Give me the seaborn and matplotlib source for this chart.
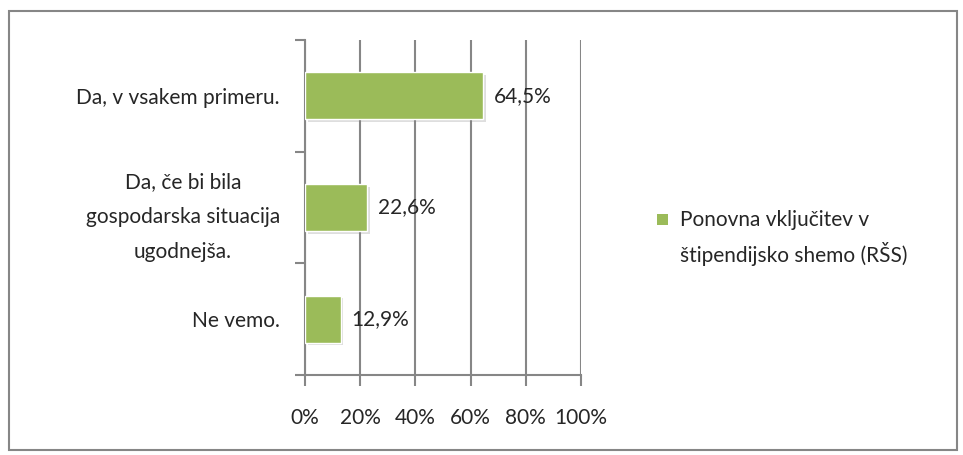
import matplotlib
matplotlib.use("Agg")
import matplotlib.pyplot as plt
import matplotlib.patheffects as pe
from matplotlib.patches import Rectangle
from matplotlib.ticker import FixedLocator
from matplotlib.legend_handler import HandlerPatch
import seaborn as sns
import pandas as pd

categories = ["Da, v vsakem primeru.",
              "Da, če bi bila\ngospodarska situacija\nugodnejša.",
              "Ne vemo."]
values = [64.5, 22.6, 12.9]
series_name = "Ponovna vključitev v\nštipendijsko shemo (RŠS)"
x_ticks = [0, 20, 40, 60, 80, 100]
x_labels = ["0%", "20%", "40%", "60%", "80%", "100%"]

green = "#9BBB59"
gray = "#868686"
fs = 15

sns.set_theme(style="white")
plt.rcParams["font.family"] = ["Lato", "DejaVu Sans"]

df = pd.DataFrame({"cat": categories, "val": values})

fig = plt.figure(figsize=(9.63, 4.55), dpi=100)
ax = fig.add_axes([0.3167, 0.176, 0.2866, 0.736])

sns.barplot(data=df, x="val", y="cat", color=green, width=0.42, saturation=1,
            edgecolor="white", linewidth=1, ax=ax, zorder=3)
for bar in ax.patches:
    bar.set_path_effects([pe.SimplePatchShadow(offset=(2, -2), shadow_rgbFace="#7f7f7f", alpha=0.25),
                          pe.Normal()])

ax.set_xlim(0, 100)
ax.set_ylim(2.5, -0.5)
ax.set_xticks(x_ticks)
ax.set_xticklabels(x_labels, fontsize=fs)
ax.xaxis.grid(True, color=gray, linewidth=1.5, zorder=0)
ax.set_axisbelow(True)

# ticks at category boundaries, labels at centres
ax.yaxis.set_major_locator(FixedLocator([-0.5, 0.5, 1.5, 2.5]))
ax.set_yticklabels([])
ax.yaxis.set_minor_locator(FixedLocator([0, 1, 2]))
ax.set_yticklabels(categories, minor=True, fontsize=fs, multialignment="center",
                   linespacing=1.95)
ax.tick_params(axis="y", which="major", left=True, length=7, width=1.5, color=gray, direction="out")
ax.tick_params(axis="y", which="minor", left=True, length=0, pad=18)
ax.tick_params(axis="x", bottom=True, length=8, width=1.5, color=gray, direction="out", pad=16)
ax.set_xlabel("")
ax.set_ylabel("")

for s in ["top", "right"]:
    ax.spines[s].set_visible(False)
for s in ["left", "bottom"]:
    ax.spines[s].set_color(gray)
    ax.spines[s].set_linewidth(1.5)

for i, v in enumerate(values):
    ax.annotate(f"{v:.1f}%".replace(".", ","), (v, i), xytext=(8, 0),
                textcoords="offset points", va="center", ha="left", fontsize=fs,
                zorder=5)


def square_on_first_line(legend, orig_handle, xdescent, ydescent, width, height, fontsize):
    side = 0.5 * fontsize
    return Rectangle((-xdescent + (width - side) / 2, -ydescent + (height - side) / 2 + 13.5),
                     side, side)


proxy = Rectangle((0, 0), 1, 1, facecolor=green, edgecolor="none")
leg = fig.legend([proxy], [series_name], loc="center left", bbox_to_anchor=(0.661, 0.478),
                 frameon=False, fontsize=fs, handlelength=0.7, handleheight=0.7,
                 handletextpad=0.5,
                 handler_map={Rectangle: HandlerPatch(patch_func=square_on_first_line)})
for t in leg.get_texts():
    t.set_linespacing(1.6)

fig.patches.append(Rectangle((0.0093, 0.011), 0.984, 0.965, transform=fig.transFigure,
                             fill=False, edgecolor=gray, linewidth=1.5))

fig.savefig("out.png", dpi=100)
